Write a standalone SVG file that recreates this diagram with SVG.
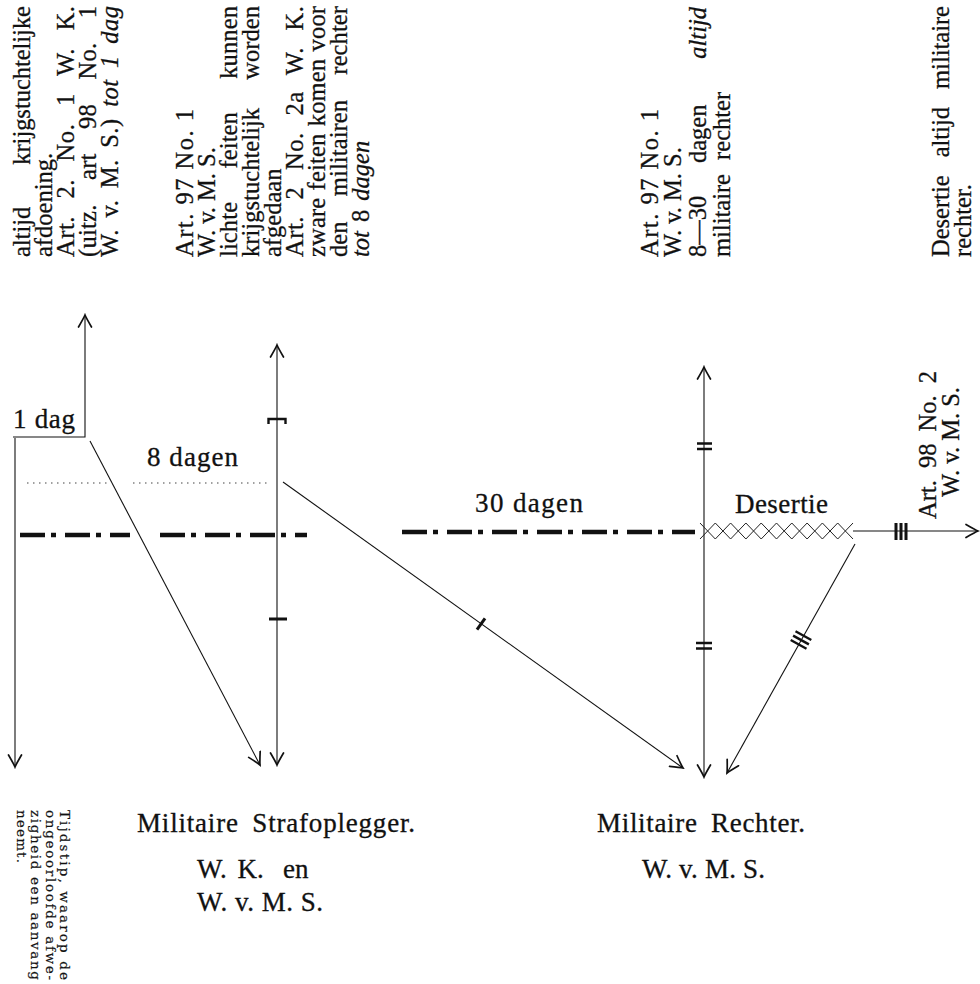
<svg xmlns="http://www.w3.org/2000/svg" width="980" height="984" viewBox="0 0 980 984">
<style>
  text { font-family: "Liberation Serif", "DejaVu Serif", serif; fill: #111; stroke: #111; stroke-width: 0.3px; }
  .c { font-size: 24.5px; }
  .h { font-size: 27px; }
  .s { font-family: "DejaVu Serif", "Liberation Serif", serif; font-size: 13.5px; stroke-width: 0.2px; }
  .i { font-style: italic; }
  .ln { stroke: #111; stroke-width: 1.1; fill: none; }
  .ar { marker-end: url(#ah); }
  .ar2 { marker-start: url(#ah); marker-end: url(#ah); }
  .dd { stroke: #111; stroke-width: 4.5; stroke-dasharray: 25 6 5 9; fill: none; }
  .dot { stroke: #444; stroke-width: 1.2; stroke-dasharray: 1.5 4.5; fill: none; }
  .tk { stroke: #111; stroke-width: 3; fill: none; }
  .tk2 { stroke: #111; stroke-width: 2.4; fill: none; }
  .xx { stroke: #222; stroke-width: 1; fill: none; }
</style>
<defs>
  <marker id="ah" viewBox="-13 -8 15 16" refX="0" refY="0" markerWidth="15" markerHeight="16" markerUnits="userSpaceOnUse" orient="auto-start-reverse">
    <path d="M-12,-6.5 C-6,-3 -2,-0.8 0,0 C-2,0.8 -6,3 -12,6.5" fill="none" stroke="#111" stroke-width="1.7" stroke-linecap="round"/>
  </marker>
</defs>
<rect width="980" height="984" fill="#fff"/>

<!-- Top text: Wetboek van Krijgstucht -->
<g id="note-wk">
  <text class="c" transform="translate(30,257) rotate(-90)" word-spacing="36" textLength="251" lengthAdjust="spacing">altijd krijgstuchtelijke</text>
  <text class="c" transform="translate(52,257) rotate(-90)">afdoening.</text>
  <text class="c" transform="translate(74,257) rotate(-90)" word-spacing="11" textLength="251" lengthAdjust="spacing">Art. 2. No. 1 W. K.</text>
  <text class="c" transform="translate(96,257) rotate(-90)" word-spacing="18" textLength="251" lengthAdjust="spacing">(uitz. art 98 No. 1</text>
  <text class="c" transform="translate(118,257) rotate(-90)" word-spacing="5" textLength="251" lengthAdjust="spacing">W. v. M. S.) <tspan class="i">tot 1 dag</tspan></text>
</g>

<g id="note-wvms-97">
  <text class="c" transform="translate(193,257) rotate(-90)" textLength="148" lengthAdjust="spacing">Art. 97 No. 1</text>
  <text class="c" transform="translate(215,257) rotate(-90)">W. v. M. S.</text>
  <text class="c" transform="translate(237,257) rotate(-90)" word-spacing="27" textLength="251" lengthAdjust="spacing">lichte feiten kunnen</text>
  <text class="c" transform="translate(259,257) rotate(-90)" word-spacing="22" textLength="251" lengthAdjust="spacing">krijgstuchtelijk worden</text>
  <text class="c" transform="translate(281,257) rotate(-90)">afgedaan</text>
  <text class="c" transform="translate(303,257) rotate(-90)" word-spacing="10" textLength="251" lengthAdjust="spacing">Art. 2 No. 2a W. K.</text>
  <text class="c" transform="translate(325,257) rotate(-90)" word-spacing="1" textLength="251" lengthAdjust="spacing">zware feiten komen voor</text>
  <text class="c" transform="translate(347,257) rotate(-90)" word-spacing="19" textLength="251" lengthAdjust="spacing">den militairen rechter</text>
  <text class="c" transform="translate(369,257) rotate(-90)" word-spacing="3"><tspan class="i">tot</tspan> 8 <tspan class="i">dagen</tspan></text>
</g>

<g id="note-rechter">
  <text class="c" transform="translate(658,257) rotate(-90)" textLength="148" lengthAdjust="spacing">Art. 97 No. 1</text>
  <text class="c" transform="translate(681,257) rotate(-90)">W. v. M. S.</text>
  <text class="c" transform="translate(706,257) rotate(-90)"><tspan x="0">8—30 </tspan><tspan x="94">dagen </tspan><tspan x="250" text-anchor="end" class="i">altijd</tspan></text>
  <text class="c" transform="translate(730,257) rotate(-90)" word-spacing="8">militaire rechter</text>
</g>

<g id="note-desertie">
  <text class="c" transform="translate(949,257) rotate(-90)" word-spacing="12" textLength="251" lengthAdjust="spacing">Desertie altijd militaire</text>
  <text class="c" transform="translate(971,257) rotate(-90)">rechter.</text>
</g>

<g id="note-art98">
  <text class="c" transform="translate(936,445) rotate(-90)" text-anchor="middle" word-spacing="6">Art. 98 No. 2</text>
  <text class="c" transform="translate(959,442) rotate(-90)" text-anchor="middle">W. v. M. S.</text>
</g>

<!-- Period labels -->
<g id="label-1dag"><text class="h" x="13" y="428" textLength="62" lengthAdjust="spacing">1 dag</text></g>
<g id="label-8dagen"><text class="h" x="147" y="466" textLength="91" lengthAdjust="spacing">8 dagen</text></g>
<g id="label-30dagen"><text class="h" x="475" y="512" textLength="108" lengthAdjust="spacing">30 dagen</text></g>
<g id="label-desertie"><text class="h" x="735" y="513" textLength="93" lengthAdjust="spacing">Desertie</text></g>

<!-- Nodes -->
<g id="node-strafoplegger">
  <text class="h" x="137" y="832" textLength="278" lengthAdjust="spacing" word-spacing="6">Militaire Strafoplegger.</text>
  <text class="h" y="878" word-spacing="4"><tspan x="197">W. K. </tspan><tspan x="283">en</tspan></text>
  <text class="h" x="197" y="911" textLength="126" lengthAdjust="spacing">W. v. M. S.</text>
</g>
<g id="node-rechter">
  <text class="h" x="597" y="832" textLength="208" lengthAdjust="spacing" word-spacing="6">Militaire Rechter.</text>
  <text class="h" x="642" y="878" textLength="123" lengthAdjust="spacing">W. v. M. S.</text>
</g>
<g id="note-tijdstip">
  <text class="s" transform="translate(60,810) rotate(90)" textLength="170" lengthAdjust="spacing">Tijdstip, waarop de</text>
  <text class="s" transform="translate(45.5,810) rotate(90)" textLength="170" lengthAdjust="spacing">ongeoorloofde afwe-</text>
  <text class="s" transform="translate(31,810) rotate(90)" textLength="170" lengthAdjust="spacing">zigheid een aanvang</text>
  <text class="s" transform="translate(16.5,810) rotate(90)" textLength="53" lengthAdjust="spacing">neemt.</text>
</g>

<!-- Connectors -->
<g id="connectors">
  <!-- time limit lines -->
  <path class="dot" d="M27,483 H110 M133,483 H267"/>
  <path class="dd" d="M20,535 H130"/>
  <path class="dd" d="M160,535 H307"/>
  <path class="dd" d="M402,532 H695"/>

  <!-- left timeline -->
  <path class="ln ar" d="M15,438 V767"/>
  <path class="ln ar" d="M13,437 H85 V315"/>
  <path class="ln ar" d="M90,441 L260,765"/>

  <!-- middle (Strafoplegger) vertical -->
  <path class="ln ar2" d="M277,345 V765"/>
  <path class="tk2" d="M268.5,424 V419 H285.5 V424"/>
  <path class="tk" d="M269,619 H287"/>

  <!-- 8 dagen diagonal to Rechter -->
  <path class="ln ar" d="M283,482 L683,768"/>
  <path class="tk" d="M477,629.7 L485,618.3"/>

  <!-- Rechter vertical -->
  <path class="ln ar2" d="M704,367 V777"/>
  <path class="tk2" d="M697,443.5 H712 M697,449 H712"/>
  <path class="tk2" d="M696,643 H712 M696,648.5 H712"/>

  <!-- Desertie crosses -->
  <path class="xx" d="M700,523 L715.3,539 M700,539 L715.3,523 M715.3,523 L730.6,539 M715.3,539 L730.6,523 M730.6,523 L745.9,539 M730.6,539 L745.9,523 M745.9,523 L761.2,539 M745.9,539 L761.2,523 M761.2,523 L776.5,539 M761.2,539 L776.5,523 M776.5,523 L791.8,539 M776.5,539 L791.8,523 M791.8,523 L807.1,539 M791.8,539 L807.1,523 M807.1,523 L822.4,539 M807.1,539 L822.4,523 M822.4,523 L837.7,539 M822.4,539 L837.7,523 M837.7,523 L853,539 M837.7,539 L853,523"/>

  <!-- Art 98 No 2 arrow -->
  <path class="ln ar" d="M853,531 H978"/>
  <path class="tk" d="M896,523 V540 M901,523 V540 M906,523 V540"/>

  <!-- Desertie diagonal to Rechter -->
  <path class="ln ar" d="M855,544 L727,773"/>
  <path class="tk2" d="M795.5,631.2 L811.3,640 M793.1,635.6 L808.9,644.4 M790.7,640 L806.5,648.8"/>
</g>
</svg>
